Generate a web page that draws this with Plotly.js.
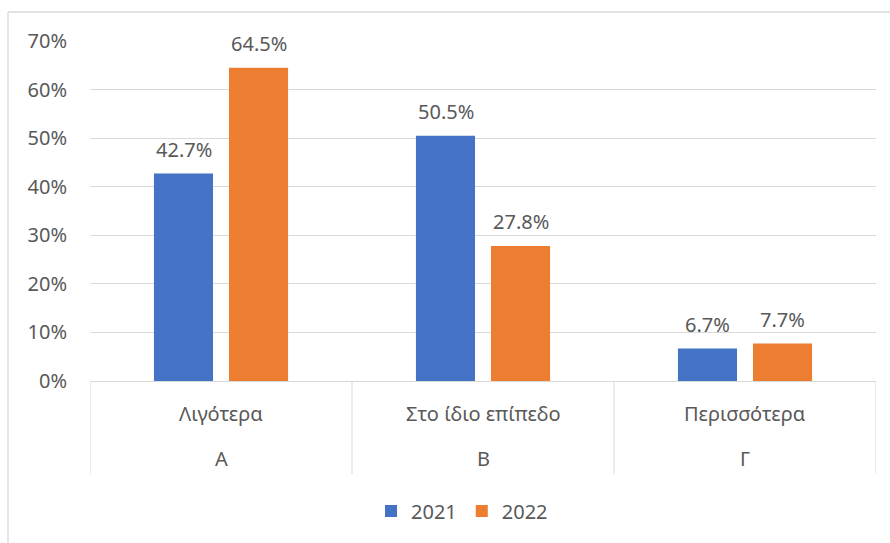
<!DOCTYPE html>
<html>
<head>
<meta charset="utf-8">
<script src="https://cdn.plot.ly/plotly-3.0.1.min.js"></script>
<style>
  body { margin: 0; background: #fff; }
  #chart { width: 890px; height: 543px; }
</style>
</head>
<body>
<div id="chart"></div>
<script>
// chart values
const categories = ['Λιγότερα', 'Στο ίδιο επίπεδο', 'Περισσότερα'];
const groupLabels = ['Α', 'Β', 'Γ'];
const seriesNames = ['2021', '2022'];
const values2021 = [42.7, 50.5, 6.7];
const values2022 = [64.5, 27.8, 7.7];
const yTicks = [0, 10, 20, 30, 40, 50, 60, 70];
const yTickText = ['0%', '10%', '20%', '30%', '40%', '50%', '60%', '70%'];

const W = 890, H = 543;
const M = { l: 90, r: 14, t: 41, b: 162 };
const plotW = W - M.l - M.r;
const plotH = H - M.t - M.b;

// pixel -> paper helpers
const px = x => (x - M.l) / plotW;
const py = y => (H - M.b - y) / plotH;

const textColor = '#595959';
const gridColor = '#D9D9D9';
const font = 'Noto Sans, Open Sans, sans-serif';
const fs = 20;
const colors = ['#4472C4', '#ED7D31'];

const traces = [values2021, values2022].map((vals, i) => ({
    type: 'bar',
    name: seriesNames[i],
    x: categories,
    y: vals,
    marker: { color: colors[i] },
    hoverinfo: 'skip'
}));

const annotations = [];
// value labels above bars
[values2021, values2022].forEach((vals, i) => {
    vals.forEach((v, j) => {
        annotations.push({
            x: categories[j], y: v, xref: 'x', yref: 'y',
            text: v.toFixed(1) + '%',
            showarrow: false,
            xshift: i === 0 ? -37.5 : 37.5,
            yshift: 24,
            yanchor: 'middle',
            font: { family: font, size: fs, color: textColor }
        });
    });
});
// two-row category labels
categories.forEach((c, j) => {
    annotations.push({
        x: c, y: py(413), xref: 'x', yref: 'paper',
        text: c, showarrow: false, yanchor: 'middle',
        font: { family: font, size: fs, color: textColor }
    });
    annotations.push({
        x: c, y: py(458), xref: 'x', yref: 'paper',
        text: groupLabels[j], showarrow: false, yanchor: 'middle',
        font: { family: font, size: fs, color: textColor }
    });
});

const shapes = [];
// separators between categories
[-0.5, 0.5, 1.5, 2.5].forEach(xv => {
    shapes.push({
        type: 'line', xref: 'x', yref: 'paper',
        x0: xv, x1: xv, y0: 0, y1: py(474),
        line: { color: gridColor, width: 1 }
    });
});
// chart area border (top and left visible)
shapes.push({
    type: 'line', xref: 'paper', yref: 'paper',
    x0: px(8), x1: px(892), y0: py(12), y1: py(12),
    line: { color: gridColor, width: 1.3 }
});
shapes.push({
    type: 'line', xref: 'paper', yref: 'paper',
    x0: px(8), x1: px(8), y0: py(12), y1: py(545),
    line: { color: gridColor, width: 1.3 }
});

const layout = {
    width: W, height: H,
    margin: M,
    paper_bgcolor: '#fff',
    plot_bgcolor: '#fff',
    font: { family: font, size: fs, color: textColor },
    barmode: 'group',
    bargap: 0.427,
    bargroupgap: 0.213,
    xaxis: {
        type: 'category',
        range: [-0.5, 2.5],
        showticklabels: false,
        ticks: '',
        showgrid: false,
        showline: true,
        linecolor: gridColor,
        linewidth: 1,
        zeroline: false,
        fixedrange: true
    },
    yaxis: {
        range: [0, 70],
        tickmode: 'array',
        tickvals: yTicks,
        ticktext: yTickText,
        showgrid: true,
        gridcolor: gridColor,
        gridwidth: 1,
        zeroline: false,
        showline: false,
        ticks: '',
        ticklabelstandoff: 22,
        tickfont: { family: font, size: fs, color: textColor },
        fixedrange: true
    },
    showlegend: true,
    legend: {
        orientation: 'h',
        x: px(462), xanchor: 'center',
        y: py(511), yanchor: 'middle',
        font: { family: font, size: fs, color: textColor },
        itemclick: false
    },
    annotations: annotations,
    shapes: shapes
};

Plotly.newPlot('chart', traces, layout, { displayModeBar: false, staticPlot: true });
</script>
</body>
</html>
